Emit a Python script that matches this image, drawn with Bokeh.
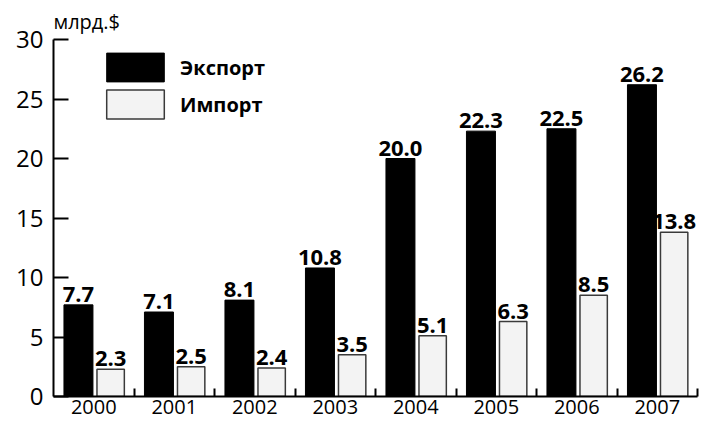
import numpy as np
from bokeh.plotting import figure
from bokeh.models import Range1d, FixedTicker, ColumnDataSource, LabelSet
from bokeh.core.properties import value
from bokeh.embed import file_html
from bokeh.resources import INLINE

years = ["2000", "2001", "2002", "2003", "2004", "2005", "2006", "2007"]
export_vals = [7.7, 7.1, 8.1, 10.8, 20.0, 22.3, 22.5, 26.2]
import_vals = [2.3, 2.5, 2.4, 3.5, 5.1, 6.3, 8.5, 13.8]
y_ticks = [0, 5, 10, 15, 20, 25, 30]

idx = np.arange(len(years))
ex_x = idx + 0.31
im_x = idx + 0.71

ex_src = ColumnDataSource(dict(x=ex_x, top=export_vals, lab=[f"{v:.1f}" for v in export_vals]))
im_src = ColumnDataSource(dict(x=im_x, top=import_vals, lab=[f"{v:.1f}" for v in import_vals]))

p = figure(width=705, height=419, output_backend="svg", toolbar_location=None,
           x_range=Range1d(0, len(years)), y_range=Range1d(0, 30),
           min_border_left=53, min_border_right=8, min_border_top=33, min_border_bottom=23)
p.outline_line_color = None
p.xgrid.grid_line_color = None
p.ygrid.grid_line_color = None

p.vbar(x="x", top="top", width=0.36, bottom=0, source=ex_src, fill_color="black",
       line_color="black", line_width=1, legend_label="Экспорт")
p.vbar(x="x", top="top", width=0.34, bottom=0, source=im_src, fill_color="#f3f3f3",
       line_color="#3a3a3a", line_width=1.5, legend_label="Импорт")

for src in (ex_src, im_src):
    p.add_layout(LabelSet(x="x", y="top", text="lab", source=src, text_align="center",
                          text_baseline="alphabetic", y_offset=3, text_font=value("Open Sans"),
                          text_font_style="bold", text_font_size="22px", text_color="black"))

# x axis: labels at category centres, small ticks at category boundaries
xa = p.xaxis[0]
xa.ticker = FixedTicker(ticks=list(idx + 0.5), minor_ticks=list(idx + 1))
xa.major_label_overrides = {float(i + 0.5): y for i, y in enumerate(years)}
xa.major_tick_line_color = None
xa.major_tick_in = 0
xa.major_tick_out = 0
xa.minor_tick_in = 8
xa.minor_tick_out = 0
xa.minor_tick_line_width = 2
xa.minor_tick_line_color = "black"
xa.axis_line_width = 2
xa.axis_line_color = "black"
xa.major_label_standoff = 3
xa.major_label_text_font = "Open Sans"
xa.major_label_text_font_size = "20px"
xa.major_label_text_color = "black"

ya = p.yaxis[0]
ya.ticker = FixedTicker(ticks=y_ticks)
ya.major_tick_in = 15
ya.major_tick_out = 0
ya.major_tick_line_width = 2
ya.minor_tick_line_color = None
ya.axis_line_width = 2
ya.axis_line_color = "black"
ya.major_label_standoff = 10
ya.major_label_text_font = "Open Sans"
ya.major_label_text_font_size = "24px"
ya.major_label_text_color = "black"

p.title.text = "млрд.$"
p.title.text_font = "Open Sans"
p.title.text_font_style = "normal"
p.title.text_font_size = "20px"
p.title.text_color = "black"
p.title.align = "left"
p.title.standoff = 10

lg = p.legend[0]
lg.location = (46, 274)
lg.padding = 0
lg.margin = 0
lg.spacing = 1
lg.glyph_width = 72
lg.glyph_height = 36
lg.label_standoff = 9
lg.label_text_font = "Open Sans"
lg.label_text_font_style = "bold"
lg.label_text_font_size = "20px"
lg.label_text_color = "black"
lg.border_line_color = None
lg.background_fill_alpha = 0

open("out.html", "w").write(file_html(p, INLINE))
